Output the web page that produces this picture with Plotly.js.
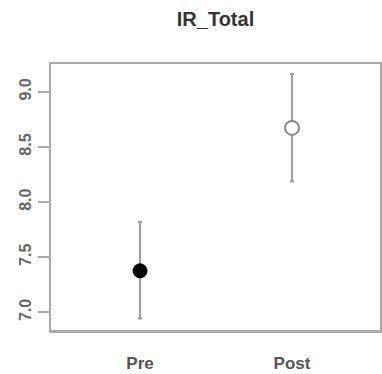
<!DOCTYPE html>
<html>
<head>
<meta charset="utf-8">
<script src="https://cdn.plot.ly/plotly-3.0.1.min.js"></script>
<style>html,body{margin:0;padding:0;background:#fff;}#chart{width:382px;height:374px;}</style>
</head>
<body>
<div id="chart"></div>
<script>
const categories = ["Pre", "Post"];
const means = [7.376, 8.673];
const upper = [7.819, 9.164];
const lower = [6.944, 8.187];
const yTicks = [7.0, 7.5, 8.0, 8.5, 9.0];
const yTickLabels = ["7.0", "7.5", "8.0", "8.5", "9.0"];

const plus = means.map((m, i) => upper[i] - m);
const minus = means.map((m, i) => m - lower[i]);

const errStyle = {color: '#a0a0a0', thickness: 2.2, width: 2};

const traces = [
  {
    x: [categories[0]], y: [means[0]], type: 'scatter', mode: 'markers',
    marker: {size: 14, color: '#000', line: {color: '#000', width: 1}},
    error_y: Object.assign({type: 'data', symmetric: false, array: [plus[0]], arrayminus: [minus[0]]}, errStyle),
    showlegend: false, hoverinfo: 'skip'
  },
  {
    x: [categories[1]], y: [means[1]], type: 'scatter', mode: 'markers',
    marker: {size: 14, color: '#fff', line: {color: '#888', width: 2}},
    error_y: Object.assign({type: 'data', symmetric: false, array: [plus[1]], arrayminus: [minus[1]]}, errStyle),
    showlegend: false, hoverinfo: 'skip'
  }
];

const layout = {
  width: 382, height: 374,
  margin: {l: 51, r: 2, t: 64, b: 44},
  paper_bgcolor: '#fff', plot_bgcolor: '#fff',
  font: {family: 'Liberation Sans, Arial, sans-serif', color: '#555'},
  title: {
    text: '<b>IR_Total</b>', x: 0.5, xref: 'paper', xanchor: 'center',
    y: 1 - 19 / 374, yref: 'container', yanchor: 'middle',
    font: {size: 20, color: '#333', family: 'Liberation Sans, Arial, sans-serif'}
  },
  xaxis: {
    type: 'category', categoryorder: 'array', categoryarray: categories,
    range: [-0.586, 1.579], showgrid: false, zeroline: false,
    showline: true, mirror: true, linecolor: '#aaa', linewidth: 2.5,
    ticks: 'outside', ticklen: 16, tickcolor: 'rgba(0,0,0,0)',
    tickfont: {size: 17, color: '#555', weight: 'bold'}
  },
  yaxis: {
    range: [6.839, 9.253], showgrid: false, zeroline: false,
    showline: true, mirror: true, linecolor: '#aaa', linewidth: 2.5,
    tickmode: 'array', tickvals: yTicks, ticktext: yTickLabels,
    ticks: 'outside', ticklen: 11, tickcolor: '#aaa', tickwidth: 2,
    tickangle: -90, tickfont: {size: 16, color: '#666', weight: 'bold'}
  }
};

Plotly.newPlot('chart', traces, layout, {displayModeBar: false, staticPlot: true});
</script>
</body>
</html>
